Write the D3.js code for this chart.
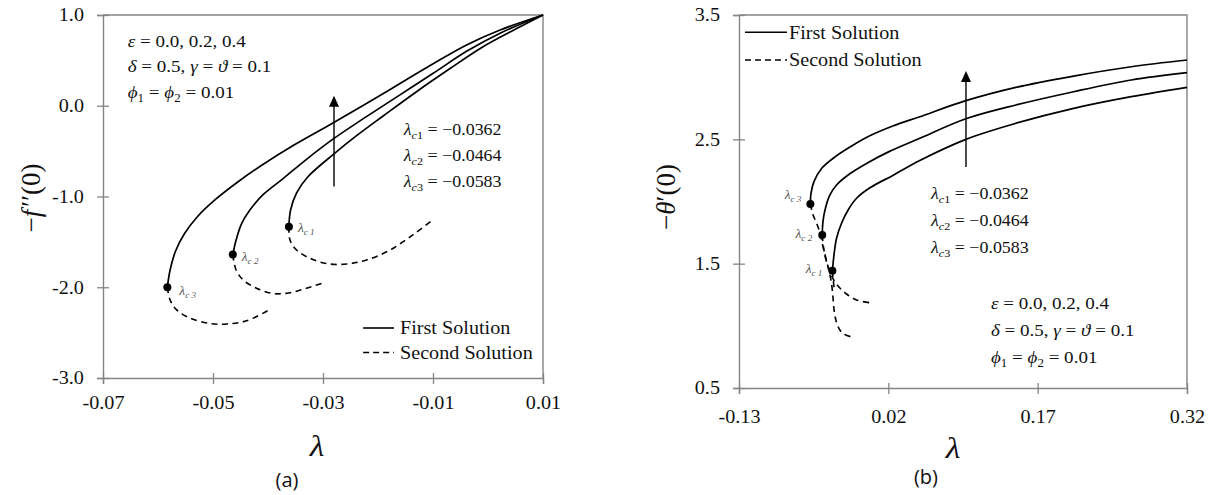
<!DOCTYPE html>
<html>
<head>
<meta charset="utf-8">
<script src="https://cdn.jsdelivr.net/npm/d3@7"></script>
<style>
  body { margin: 0; background: #fff; }
  svg { display: block; }
</style>
</head>
<body>
<div id="vis"></div>
<script>
const WIDTH = 1215;
const HEIGHT = 495;
const SX = 1.12;            // the scanned figure is a bit wider than tall, so the text is too
const AXIS_COLOR = "#858585";
const INK = "#111";
const SERIF = "'Liberation Serif', 'Times New Roman', 'DejaVu Serif', serif";
const SANS = "'Open Sans', 'Noto Sans', sans-serif";

// ---------- panel (a): -f''(0) vs lambda ----------
const xTicksA = [-0.07, -0.05, -0.03, -0.01, 0.01];
const yTicksA = [1.0, 0.0, -1.0, -2.0, -3.0];
const critA = [[-0.0362, -1.333], [-0.0464, -1.64], [-0.0583, -2.0]];

const firstA1 = [[-0.0362, -1.333], [-0.0359, -1.15], [-0.0348, -0.96], [-0.0327, -0.78], [-0.0280, -0.53],
  [-0.0239, -0.33], [-0.0190, -0.11], [-0.0130, 0.155], [-0.0069, 0.41], [-0.0009, 0.65], [0.0052, 0.85], [0.01, 1.0]];
const firstA2 = [[-0.0464, -1.64], [-0.0458, -1.48], [-0.0448, -1.30], [-0.0433, -1.15], [-0.0409, -0.98],
  [-0.0372, -0.80], [-0.0330, -0.59], [-0.0280, -0.36], [-0.0221, -0.12], [-0.0160, 0.12], [-0.0099, 0.36],
  [-0.0039, 0.60], [0.0022, 0.80], [0.01, 1.0]];
const firstA3 = [[-0.0583, -2.0], [-0.0578, -1.81], [-0.0568, -1.60], [-0.0552, -1.41], [-0.0528, -1.22],
  [-0.0495, -1.03], [-0.0455, -0.84], [-0.0410, -0.65], [-0.0352, -0.43], [-0.0285, -0.20], [-0.0221, 0.025],
  [-0.0160, 0.245], [-0.0099, 0.465], [-0.0039, 0.67], [0.0022, 0.835], [0.01, 1.0]];

const secondA1 = [[-0.0362, -1.333], [-0.0360, -1.48], [-0.0348, -1.59], [-0.0324, -1.68], [-0.0293, -1.74],
  [-0.0257, -1.744], [-0.0221, -1.70], [-0.0178, -1.59], [-0.0136, -1.42], [-0.0099, -1.25]];
const secondA2 = [[-0.0464, -1.64], [-0.0458, -1.81], [-0.0445, -1.92], [-0.0421, -2.01], [-0.0390, -2.07],
  [-0.0360, -2.06], [-0.0330, -2.01], [-0.0299, -1.95]];
const secondA3 = [[-0.0583, -2.0], [-0.0578, -2.14], [-0.0566, -2.25], [-0.0542, -2.34], [-0.0505, -2.40],
  [-0.0475, -2.405], [-0.0439, -2.37], [-0.0398, -2.25]];

// ---------- panel (b): -theta'(0) vs lambda ----------
const xTicksB = [-0.13, 0.02, 0.17, 0.32];
const yTicksB = [0.5, 1.5, 2.5, 3.5];
const critB = [[-0.0362, 1.443], [-0.0464, 1.73], [-0.0583, 1.98]];

const firstB1 = [[-0.0362, 1.443], [-0.0344, 1.583], [-0.032, 1.704], [-0.027, 1.825], [-0.0204, 1.932],
  [-0.0119, 2.026], [0.0015, 2.11], [0.0245, 2.21], [0.0516, 2.33], [0.0979, 2.50], [0.1481, 2.629],
  [0.2061, 2.749], [0.2640, 2.843], [0.32, 2.918]];
const firstB2 = [[-0.0464, 1.73], [-0.0455, 1.851], [-0.0428, 1.958], [-0.0388, 2.052], [-0.032, 2.133],
  [-0.018, 2.227], [-0.0006, 2.312], [0.0207, 2.401], [0.0516, 2.508], [0.0979, 2.665], [0.1481, 2.776],
  [0.2061, 2.883], [0.2640, 2.977], [0.32, 3.036]];
const firstB3 = [[-0.0583, 1.98], [-0.0578, 2.06], [-0.0547, 2.16], [-0.0469, 2.267], [-0.0334, 2.36],
  [-0.018, 2.441], [-0.0006, 2.521], [0.0245, 2.607], [0.0516, 2.682], [0.0979, 2.811], [0.1481, 2.918],
  [0.2061, 3.009], [0.2640, 3.084], [0.32, 3.138]];

const secondB1 = [[-0.0362, 1.443], [-0.0352, 1.36], [-0.0345, 1.30]];
const secondB2 = [[-0.0464, 1.73], [-0.0453, 1.642], [-0.0433, 1.554], [-0.0408, 1.481], [-0.0378, 1.417],
  [-0.0337, 1.353], [-0.0287, 1.304], [-0.0220, 1.256], [-0.0119, 1.208], [0.001, 1.186]];
const secondB3 = [[-0.0583, 1.98], [-0.0559, 1.899], [-0.0518, 1.819], [-0.0483, 1.739], [-0.0458, 1.642],
  [-0.0428, 1.546], [-0.0398, 1.449], [-0.0373, 1.353], [-0.0358, 1.248], [-0.0347, 1.143], [-0.0327, 1.047],
  [-0.0292, 0.974], [-0.0247, 0.934], [-0.018, 0.913]];

const critNames = ["c 1", "c 2", "c 3"];
const critValues = ["\u22120.0362", "\u22120.0464", "\u22120.0583"];

const svg = d3.select("#vis")
  .append("svg")
  .attr("width", WIDTH)
  .attr("height", HEIGHT)
  .style("font-family", SERIF);

// text with italic / subscript pieces, squeezed sideways like the original
function richText(g, px, py, size, parts, anchor) {
  const t = g.append("text")
    .attr("transform", "translate(" + px + "," + py + ") scale(" + SX + ",1)")
    .style("font-family", SERIF)
    .attr("font-size", size)
    .attr("text-anchor", anchor || "start")
    .attr("dy", "0.35em")
    .attr("fill", INK);
  let shifted = 0;
  parts.forEach(p => {
    const s = t.append("tspan").text(p[0]);
    const style = p[1] || "";
    if (style.includes("i")) s.attr("font-style", "italic");
    const sub = style.includes("sub");
    const want = sub ? size * 0.25 : 0;
    if (want !== shifted) { s.attr("dy", want - shifted); shifted = want; }
    if (sub) s.attr("font-size", size * 0.68);
  });
  return t;
}

function drawPanel(cfg) {
  const x = d3.scaleLinear().domain(cfg.xDomain).range(cfg.xRange);
  const y = d3.scaleLinear().domain(cfg.yDomain).range(cfg.yRange);
  const g = svg.append("g");

  // frame (top and right)
  g.append("path")
    .attr("d", "M" + x.range()[0] + "," + y.range()[1] + "H" + x.range()[1] + "V" + y.range()[0])
    .attr("fill", "none").attr("stroke", AXIS_COLOR).attr("stroke-width", 1.4);

  const xAxis = g.append("g")
    .attr("transform", "translate(0," + y.range()[0] + ")")
    .call(d3.axisBottom(x).tickValues(cfg.xTicks).tickSizeOuter(0).tickSize(6)
      .tickPadding(cfg.xPad).tickFormat(d => d.toFixed(2)));
  const yAxis = g.append("g")
    .attr("transform", "translate(" + x.range()[0] + ",0)")
    .call(d3.axisLeft(y).tickValues(cfg.yTicks).tickSizeOuter(0).tickSize(6)
      .tickPadding(11).tickFormat(d => d.toFixed(1)));

  [xAxis, yAxis].forEach(a => {
    a.select(".domain").attr("stroke", AXIS_COLOR).attr("stroke-width", 1.4);
    a.selectAll(".tick line").attr("stroke", AXIS_COLOR).attr("stroke-width", 1.3);
    a.selectAll("text")
      .attr("font-size", 18)
      .style("font-family", SERIF)
      .attr("fill", INK)
      .attr("transform", "scale(" + SX + ",1)");
  });
  xAxis.selectAll(".tick line").attr("y1", -5).attr("y2", 6);
  yAxis.selectAll(".tick line").attr("x1", 6).attr("x2", -6);

  const line = d3.line()
    .x(d => x(d[0]))
    .y(d => y(d[1]))
    .curve(d3.curveCatmullRom.alpha(0.5));

  g.selectAll(".first")
    .data(cfg.first)
    .enter()
    .append("path")
      .attr("d", line)
      .attr("fill", "none")
      .attr("stroke", "#000")
      .attr("stroke-width", 1.7);

  g.selectAll(".second")
    .data(cfg.second)
    .enter()
    .append("path")
      .attr("d", line)
      .attr("fill", "none")
      .attr("stroke", "#000")
      .attr("stroke-width", 1.6)
      .attr("stroke-dasharray", "6,4.5");

  g.selectAll(".crit")
    .data(cfg.crit)
    .enter()
    .append("circle")
      .attr("cx", d => x(d[0]))
      .attr("cy", d => y(d[1]))
      .attr("r", 4)
      .attr("fill", "#000");

  // little lambda_c tags beside the turning points
  cfg.crit.forEach((d, i) => {
    const off = cfg.critTagOffset[i];
    richText(g, x(d[0]) + off[0], y(d[1]) + off[1], 12,
      [["\u03bb", "i"], [critNames[i], "isub"]], cfg.critTagAnchor)
      .attr("fill", "#555");
  });

  // arrow
  const ax = x(cfg.arrow[0]);
  g.append("line")
    .attr("x1", ax).attr("x2", ax)
    .attr("y1", y(cfg.arrow[1])).attr("y2", y(cfg.arrow[2]) + 6)
    .attr("stroke", "#000").attr("stroke-width", 1.4);
  g.append("path")
    .attr("d", "M" + ax + "," + y(cfg.arrow[2]) + "l-5,11h10z")
    .attr("fill", "#000");

  // parameter block
  const params = [
    [["\u03b5", "i"], [" = 0.0, 0.2, 0.4"]],
    [["\u03b4", "i"], [" = 0.5, "], ["\u03b3", "i"], [" = "], ["\u03d1", "i"], [" = 0.1"]],
    [["\u03d5", "i"], ["1", "sub"], [" = "], ["\u03d5", "i"], ["2", "sub"], [" = 0.01"]]
  ];
  params.forEach((p, i) => richText(g, x(cfg.paramsAt[0]), y(cfg.paramsAt[1][i]), 17, p));

  // critical values block
  critValues.forEach((v, i) => {
    richText(g, x(cfg.critTextAt[0]), y(cfg.critTextAt[1][i]), 16,
      [["\u03bb", "i"], ["c", "isub"], [String(i + 1), "sub"], [" = " + v]]);
  });

  // legend
  const ly = cfg.legendAt[2];
  g.append("line")
    .attr("x1", x(cfg.legendAt[0])).attr("x2", x(cfg.legendAt[1]))
    .attr("y1", y(ly[0])).attr("y2", y(ly[0]))
    .attr("stroke", "#000").attr("stroke-width", 1.6);
  g.append("line")
    .attr("x1", x(cfg.legendAt[0])).attr("x2", x(cfg.legendAt[1]))
    .attr("y1", y(ly[1])).attr("y2", y(ly[1]))
    .attr("stroke", "#000").attr("stroke-width", 1.6)
    .attr("stroke-dasharray", "6,4");
  richText(g, x(cfg.legendAt[3]), y(ly[0]), 18, [["First Solution"]]);
  richText(g, x(cfg.legendAt[3]), y(ly[1]), 18, [["Second Solution"]]);

  // axis titles
  g.append("text")
    .attr("transform", "translate(" + cfg.xTitle[0] + "," + cfg.xTitle[1] + ") scale(" + SX + ",1)")
    .attr("text-anchor", "middle").attr("dy", "0.35em")
    .style("font-family", SERIF)
    .attr("font-size", 30).attr("font-style", "italic").attr("fill", INK)
    .text("\u03bb");
  const yt = g.append("text")
    .attr("transform", "translate(" + cfg.yTitle[0] + "," + cfg.yTitle[1] + ") rotate(-90)")
    .attr("text-anchor", "middle").attr("dy", "0.35em")
    .style("font-family", SERIF)
    .attr("font-size", 27).attr("fill", INK);
  yt.append("tspan").text("\u2212");
  yt.append("tspan").attr("font-style", "italic").text(cfg.yTitleSymbol);
  yt.append("tspan").attr("dx", cfg.yTitleGap).text(cfg.yTitleRest);

  g.append("text")
    .attr("x", cfg.tag[0]).attr("y", cfg.tag[1])
    .attr("text-anchor", "middle").attr("dy", "0.35em")
    .style("font-family", SANS)
    .attr("font-size", 20).attr("fill", INK)
    .text(cfg.tagText);
}

drawPanel({
  xDomain: [-0.07, 0.01], xRange: [103, 543],
  yDomain: [-3, 1], yRange: [378, 15],
  xTicks: xTicksA, yTicks: yTicksA, xPad: 12,
  first: [firstA1, firstA2, firstA3],
  second: [secondA1, secondA2, secondA3],
  crit: critA,
  critTagOffset: [[9, 1], [9, 2], [12, 4]], critTagAnchor: "start",
  arrow: [-0.028, -0.89, 0.11],
  paramsAt: [-0.0655, [0.7135, 0.4325, 0.1515]],
  critTextAt: [-0.0153, [-0.256, -0.543, -0.829]],
  legendAt: [-0.0227, -0.0171, [-2.449, -2.719], -0.0160],
  xTitle: [317, 445], yTitle: [31, 198],
  yTitleSymbol: "f", yTitleRest: "\u2032\u2032(0)", yTitleGap: 3,
  tag: [287, 480], tagText: "(a)"
});

drawPanel({
  xDomain: [-0.13, 0.32], xRange: [739, 1187],
  yDomain: [0.5, 3.5], yRange: [388, 15],
  xTicks: xTicksB, yTicks: yTicksB, xPad: 16,
  first: [firstB1, firstB2, firstB3],
  second: [secondB1, secondB2, secondB3],
  crit: critB,
  critTagOffset: [[-10, -2], [-10, -1], [-9, -9]], critTagAnchor: "end",
  arrow: [0.098, 2.277, 3.05],
  paramsAt: [0.1231, [1.184, 0.966, 0.749]],
  critTextAt: [0.0629, [2.068, 1.851, 1.634]],
  legendAt: [-0.124, -0.0818, [3.361, 3.138], -0.0798],
  xTitle: [953, 447], yTitle: [666, 197],
  yTitleSymbol: "\u03b8", yTitleRest: "\u2032(0)", yTitleGap: 0,
  tag: [926, 477], tagText: "(b)"
});
</script>
</body>
</html>
